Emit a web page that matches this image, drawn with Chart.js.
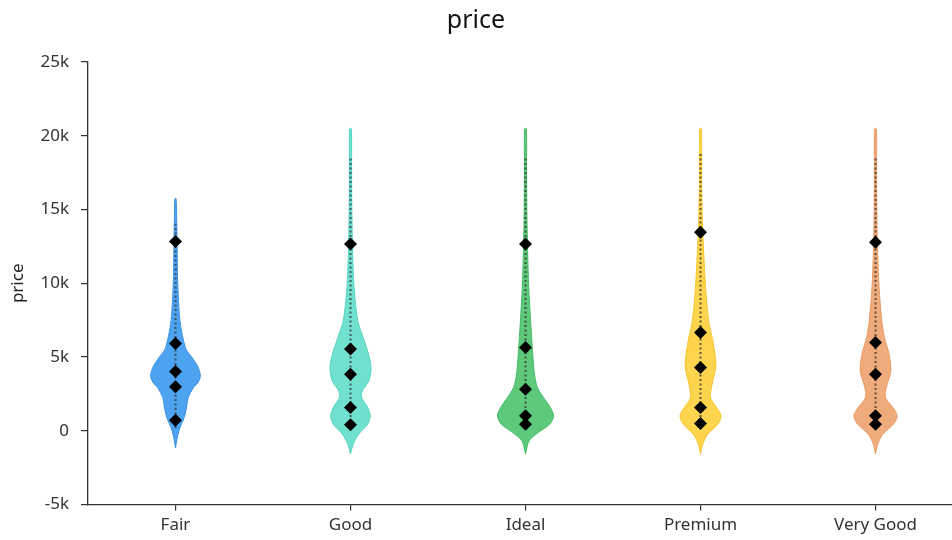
<!DOCTYPE html>
<html>
<head>
<meta charset="utf-8">
<script src="https://cdn.jsdelivr.net/npm/chart.js@4/dist/chart.umd.min.js"></script>
<style>
  html, body { margin: 0; padding: 0; background: #fff; }
  #wrap { width: 952px; height: 540px; }
</style>
</head>
<body>
<div id="wrap"><canvas id="c"></canvas></div>
<script>
// Cut categories along the x axis
const categories = ['Fair', 'Good', 'Ideal', 'Premium', 'Very Good'];

// Kernel density outline per cut: price levels and density at each level
const fairPrice = [-1150, -500, 200, 700, 1150, 1700, 2240, 2920, 3300, 3730, 4300, 4950, 5500, 6100, 7000, 7940, 10180, 12420, 14700, 15740];
const fairDensity = [0, 1.5, 4, 7, 9, 10.5, 11.7, 16.5, 21, 23, 21, 15.5, 10, 7.5, 5, 3.5, 2, 1.5, 1, 0.5];

const goodPrice = [-1570, -910, -230, 460, 1020, 1580, 2260, 2710, 3390, 4300, 5200, 6330, 7460, 9700, 12000, 15000, 18000, 20470];
const goodDensity = [0, 2.5, 7.5, 16, 18.3, 16, 10.3, 11, 17, 19, 16.7, 11.7, 6.7, 3.3, 2, 1.2, 1, 0.8];

const idealPrice = [-1570, -680, -120, 460, 1020, 1580, 2260, 2940, 3840, 5200, 7460, 9700, 12000, 15000, 18000, 20470];
const idealDensity = [0, 3.3, 11.7, 22.5, 26, 23, 16.7, 11, 8.3, 6.7, 4.7, 3, 2, 1.2, 1, 0.8];

const premiumPrice = [-1570, -910, -230, 460, 1020, 1580, 2260, 3190, 4300, 5200, 6330, 7460, 9700, 12000, 14250, 17000, 20470];
const premiumDensity = [0, 2, 6.7, 16, 19, 15, 9.2, 10.8, 14.2, 13.3, 10.8, 7.5, 4.7, 3, 1.7, 1, 0.8];

const veryGoodPrice = [-1570, -910, -230, 460, 1020, 1580, 2260, 2940, 4070, 5200, 6330, 7460, 9700, 12000, 15000, 18000, 20470];
const veryGoodDensity = [0, 2, 6.7, 16.7, 20, 16, 9.2, 10, 14.2, 12.5, 8.3, 5.8, 3.3, 2, 1.2, 1, 0.8];

// Summary markers per cut (diamonds)
const fairMarks = [725, 2985, 4020, 5920, 12840];
const goodMarks = [410, 1580, 3840, 5540, 12670];
const idealMarks = [450, 1020, 2825, 5650, 12670];
const premiumMarks = [500, 1580, 4290, 6670, 13460];
const veryGoodMarks = [450, 1020, 3840, 5990, 12780];

// Price range covered by the dotted spine of each violin
const spineLow = [200, 330, 330, 330, 330];
const spineHigh = [14040, 18540, 18540, 18770, 18540];

// Y axis ticks
const yTicks = [-5000, 0, 5000, 10000, 15000, 20000, 25000];

const fills = ['#4da3ef', '#70e0cf', '#5ec97b', '#fcd44e', '#efab7b'];
const edges = ['#3a92e4', '#55d4c1', '#45bb65', '#f6c52c', '#e89a62'];
const VIOLIN_SCALE = 1 / 162;   // density units -> category widths

const prices = [fairPrice, goodPrice, idealPrice, premiumPrice, veryGoodPrice];
const densities = [fairDensity, goodDensity, idealDensity, premiumDensity, veryGoodDensity];
const marks = [fairMarks, goodMarks, idealMarks, premiumMarks, veryGoodMarks];

function outline(i) {
  const p = prices[i], d = densities[i];
  const right = p.map((y, k) => ({ x: i + d[k] * VIOLIN_SCALE, y }));
  const left = p.map((y, k) => ({ x: i - d[k] * VIOLIN_SCALE, y })).reverse();
  return right.concat(left);
}

const datasets = [];
categories.forEach((c, i) => {
  datasets.push({
    label: c,
    data: outline(i),
    backgroundColor: fills[i],
    borderColor: edges[i],
    borderWidth: 1,
    pointRadius: 0,
    tension: 0.3,
    fill: 'shape',
    order: 3
  });
  datasets.push({
    label: c + ' range',
    data: [{ x: i, y: spineLow[i] }, { x: i, y: spineHigh[i] }],
    borderColor: 'rgba(50,50,50,0.7)',
    borderWidth: 2.2,
    borderDash: [2, 2.5],
    pointRadius: 0,
    fill: false,
    order: 2
  });
  datasets.push({
    label: c + ' stats',
    data: marks[i].map(v => ({ x: i, y: v })),
    showLine: false,
    pointStyle: 'rectRot',
    pointRadius: 6.5,
    pointBackgroundColor: '#000',
    pointBorderWidth: 0,
    order: 1
  });
});

const FONT = "'Noto Sans', 'Open Sans', sans-serif";

new Chart(document.getElementById('c'), {
  type: 'line',
  data: { datasets },
  options: {
    responsive: true,
    maintainAspectRatio: false,
    animation: false,
    layout: { autoPadding: false, padding: { top: 0, right: 0, bottom: 1, left: 0 } },
    plugins: {
      legend: { display: false },
      tooltip: { enabled: false },
      title: {
        display: true,
        text: 'price',
        color: '#111',
        font: { family: FONT, size: 25, weight: 'normal' },
        padding: { top: 6, bottom: 26 }
      }
    },
    scales: {
      x: {
        type: 'linear',
        min: -0.5,
        max: 4.437,
        afterBuildTicks: s => { s.ticks = categories.map((c, i) => ({ value: i })); },
        ticks: {
          callback: v => categories[v],
          color: '#333',
          font: { family: FONT, size: 17 },
          padding: 4,
          maxRotation: 0,
          autoSkip: false
        },
        grid: { drawOnChartArea: false, drawTicks: true, tickLength: 6, color: '#333', lineWidth: 1.2 },
        border: { color: '#333', width: 1.3 }
      },
      y: {
        type: 'linear',
        min: -5000,
        max: 25000,
        afterBuildTicks: s => { s.ticks = yTicks.map(v => ({ value: v })); },
        afterFit: s => { s.width = 88; },
        ticks: {
          callback: v => v === 0 ? '0' : (v / 1000) + 'k',
          color: '#333',
          font: { family: FONT, size: 17 },
          padding: 12
        },
        title: {
          display: true,
          text: 'price',
          color: '#222',
          font: { family: FONT, size: 17 },
          padding: { top: 8, bottom: 0 }
        },
        grid: { drawOnChartArea: false, drawTicks: true, tickLength: 7, color: '#333', lineWidth: 1.2 },
        border: { color: '#333', width: 1.3 }
      }
    }
  }
});
</script>
</body>
</html>
